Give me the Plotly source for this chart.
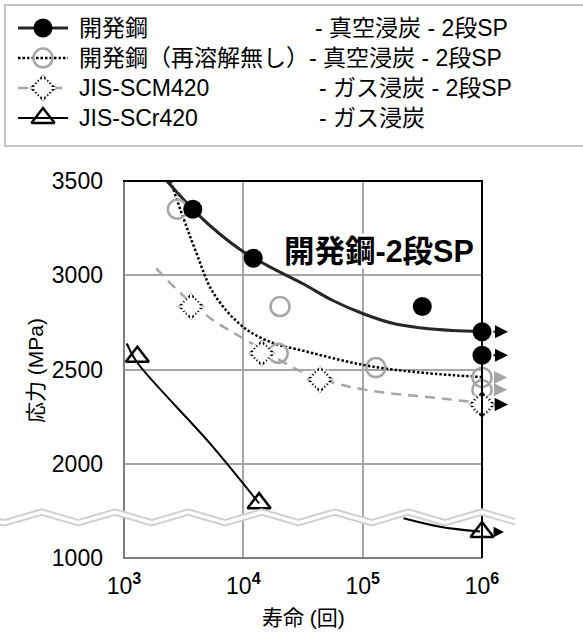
import math
import plotly.graph_objects as go

W, H = 583, 634
FONT = "Liberation Sans, Arial, Noto Sans CJK JP, sans-serif"

# ---------------- data ----------------
LIFE_TICKS = [1e3, 1e4, 1e5, 1e6]
LIFE_TICK_TEXT = ["10<sup><b>3</b></sup>", "10<sup><b>4</b></sup>",
                  "10<sup><b>5</b></sup>", "10<sup><b>6</b></sup>"]
STRESS_TICKS = [1500, 2000, 2500, 3000, 3500]          # axis positions
STRESS_TICK_TEXT = ["1000", "2000", "2500", "3000", "3500"]
BREAK_BELOW = 1500      # values under the axis break ...
BREAK_OFFSET = 500      # ... are drawn this much higher

# 開発鋼 - 真空浸炭 - 2段SP
dev_x = [3770, 12100, 316000, 1e6, 1e6]
dev_y = [3350, 3090, 2834, 2700, 2576]
dev_runout = [False, False, False, True, True]
dev_fit_x = [2290, 3980, 6310, 10000, 17800, 31600, 56200, 100000, 178000, 316000, 562000, 1000000]
dev_fit_y = [3500, 3335, 3220, 3125, 3035, 2955, 2866, 2797, 2745, 2720, 2707, 2701]

# 開発鋼（再溶解無し） - 真空浸炭 - 2段SP
nr_x = [2800, 20300, 19600, 129000, 1e6, 1e6, 1e6]
nr_y = [3350, 2834, 2586, 2510, 2458, 2392, 2314]
nr_runout = [False, False, False, False, True, True, True]
nr_fit_x = [2450, 3160, 3980, 5620, 10000, 17800, 31600, 56200, 100000, 178000, 316000, 562000, 1000000]
nr_fit_y = [3500, 3300, 3130, 2905, 2725, 2640, 2600, 2560, 2525, 2500, 2483, 2470, 2460]

# JIS-SCM420 - ガス浸炭 - 2段SP
scm_x = [3650, 14250, 44000, 1e6]
scm_y = [2834, 2586, 2447, 2314]
scm_runout = [False, False, False, True]
scm_fit_x = [1860, 3160, 5620, 10000, 17800, 31600, 56200, 100000, 178000, 316000, 562000, 1000000]
scm_fit_y = [3036, 2890, 2760, 2665, 2570, 2485, 2430, 2395, 2372, 2357, 2340, 2322]

# JIS-SCr420 - ガス浸炭
scr_x = [1294, 13550, 1e6]
scr_y = [2568, 1791, 1138]
scr_runout = [False, False, True]
scr_fit1_x = [1054, 1276, 5250, 13550]
scr_fit1_y = [2638, 2541, 2108, 1790]
scr_fit2_x = [220000, 444600, 964000]
scr_fit2_y = [1211, 1166, 1140]


def ax_y(vals):
    return [v + BREAK_OFFSET if v < BREAK_BELOW else v for v in vals]


# ---------------- styles ----------------
BLACK = "#000000"
DARK = "#262626"
GRAY = "#a6a6a6"

S_DEV = dict(symbol="circle", size=19, color=BLACK)
S_NR = dict(symbol="circle-open", size=19, color=GRAY, line=dict(width=2.5))
S_SCM = dict(symbol="diamond", size=18, color="white", line=dict(width=2.2, color=BLACK))
S_SCM_CUT1 = dict(symbol="asterisk-open", size=21, color="white", line=dict(width=2.2, color="white"))
S_SCM_CUT2 = dict(symbol="asterisk-open", size=21, color="white", angle=22.5,
                  line=dict(width=2.2, color="white"))
S_SCR = dict(symbol="triangle-up-open", size=20, color=BLACK, line=dict(width=2.5))

L_DEV = dict(color=DARK, width=3)
L_NR = dict(color=BLACK, width=2.5, dash="2.5px,2px")
L_SCM = dict(color=GRAY, width=2.5, dash="10px,7px")
L_SCR = dict(color=BLACK, width=2)

fig = go.Figure()

# fitted curves
fig.add_trace(go.Scatter(x=nr_fit_x, y=nr_fit_y, mode="lines", line=dict(**L_NR, shape="spline")))
fig.add_trace(go.Scatter(x=scm_fit_x, y=scm_fit_y, mode="lines", line=dict(**L_SCM, shape="spline")))
fig.add_trace(go.Scatter(x=scr_fit1_x, y=ax_y(scr_fit1_y), mode="lines", line=dict(**L_SCR, shape="spline")))
fig.add_trace(go.Scatter(x=scr_fit2_x, y=ax_y(scr_fit2_y), mode="lines", line=dict(**L_SCR, shape="spline")))
fig.add_trace(go.Scatter(x=dev_fit_x, y=dev_fit_y, mode="lines", line=dict(**L_DEV, shape="spline")))

# points
fig.add_trace(go.Scatter(x=nr_x, y=nr_y, mode="markers", marker=S_NR, cliponaxis=False))
for m in (S_SCM, S_SCM_CUT1, S_SCM_CUT2):
    fig.add_trace(go.Scatter(x=scm_x, y=scm_y, mode="markers", marker=m, cliponaxis=False))
fig.add_trace(go.Scatter(x=scr_x, y=ax_y(scr_y), mode="markers", marker=S_SCR, cliponaxis=False))
fig.add_trace(go.Scatter(x=dev_x, y=dev_y, mode="markers", marker=S_DEV, cliponaxis=False))

# run-out arrows
annotations = []


def runouts(xs, ys, flags, color, shift, length, width):
    for xv, yv, f in zip(xs, ax_y(ys), flags):
        if f:
            annotations.append(dict(
                x=math.log10(xv), y=yv, xref="x", yref="y", text="", showarrow=True,
                ax=-length, ay=0, axref="pixel", ayref="pixel", xshift=shift,
                arrowhead=2, arrowsize=1.3, arrowwidth=width, arrowcolor=color))


runouts(nr_x, nr_y, nr_runout, GRAY, 25, 14, 2)
runouts(scm_x, scm_y, scm_runout, BLACK, 26, 15, 2)
runouts(dev_x, dev_y, dev_runout, BLACK, 26, 16, 2)
runouts(scr_x, scr_y, scr_runout, BLACK, 22, 12, 1.6)

# ---------------- layout geometry (pixels) ----------------
PL, PR, PT, PB = 124, 482, 181, 558


def px(x):
    return x / W


def py(y):
    return 1 - y / H


# legend drawn on a pixel overlay axis
LEG_ROWS = [28, 58, 88, 118]
LEG_LINE = [18, 68]
LEG_MARK = 43
legend_items = [
    (L_DEV, [S_DEV]),
    (L_NR, [S_NR]),
    (L_SCM, [S_SCM, S_SCM_CUT1, S_SCM_CUT2]),
    (L_SCR, [S_SCR]),
]
for row, (ls, marks) in zip(LEG_ROWS, legend_items):
    fig.add_trace(go.Scatter(x=LEG_LINE, y=[row, row], mode="lines", line=ls,
                             xaxis="x2", yaxis="y2"))
    for m in marks:
        fig.add_trace(go.Scatter(x=[LEG_MARK], y=[row], mode="markers", marker=m,
                                 xaxis="x2", yaxis="y2", cliponaxis=False))

LEG_FS = 23
legend_texts = [
    (77, LEG_ROWS[0], "開発鋼"),
    (313, LEG_ROWS[0], "- 真空浸炭 - 2段SP"),
    (77, LEG_ROWS[1], "開発鋼（再溶解無し）- 真空浸炭 - 2段SP"),
    (77, LEG_ROWS[2], "JIS-SCM420"),
    (317, LEG_ROWS[2], "- ガス浸炭 - 2段SP"),
    (77, LEG_ROWS[3], "JIS-SCr420"),
    (317, LEG_ROWS[3], "- ガス浸炭"),
]
for x, y, t in legend_texts:
    annotations.append(dict(x=px(x), y=py(y), xref="paper", yref="paper", text=t,
                            showarrow=False, xanchor="left", yanchor="middle",
                            font=dict(family=FONT, size=LEG_FS, color=BLACK)))

# in-plot title and axis titles
annotations.append(dict(x=px(475), y=py(251), xref="paper", yref="paper",
                        text="<b>開発鋼-2段SP</b>", showarrow=False,
                        xanchor="right", yanchor="middle", bgcolor="white", borderpad=0,
                        font=dict(family=FONT, size=30.5, color=BLACK)))
annotations.append(dict(x=px(35), y=py(371), xref="paper", yref="paper",
                        text="応力 (MPa)", showarrow=False, textangle=-90,
                        xanchor="center", yanchor="middle",
                        font=dict(family=FONT, size=21, color=BLACK)))
annotations.append(dict(x=px(303), y=py(617), xref="paper", yref="paper",
                        text="寿命 (回)", showarrow=False,
                        xanchor="center", yanchor="middle",
                        font=dict(family=FONT, size=21, color=BLACK)))

shapes = []
# legend frame
shapes.append(dict(type="rect", xref="paper", yref="paper", x0=px(5), x1=px(W + 20),
                   y0=py(5), y1=py(146), line=dict(color="#c8c8c8", width=2), layer="above"))
# plot frame
shapes.append(dict(type="line", xref="paper", yref="paper", x0=px(PL), x1=px(PL),
                   y0=py(PT), y1=py(PB), line=dict(color="#7f7f7f", width=2), layer="above"))
shapes.append(dict(type="line", xref="paper", yref="paper", x0=px(PL - 1), x1=px(PR),
                   y0=py(PB), y1=py(PB), line=dict(color="#7f7f7f", width=2), layer="above"))
shapes.append(dict(type="line", xref="paper", yref="paper", x0=px(PL - 1), x1=px(PR + 1),
                   y0=py(PT), y1=py(PT), line=dict(color=BLACK, width=2), layer="above"))
shapes.append(dict(type="line", xref="paper", yref="paper", x0=px(PR), x1=px(PR),
                   y0=py(PT), y1=py(PB), line=dict(color=BLACK, width=2), layer="above"))

# axis-break zigzag
ZX = [0, 5, 41.7, 78.3, 115, 151.7, 188.3, 225, 261.7, 298.3, 335, 371.7, 408.3, 445, 481.7, 515]
ZY = [519.5, 520, 509.3, 520, 509.3, 520, 509.3, 520, 509.3, 520, 509.3, 520, 509.3, 520, 509.3, 519]
GAP = 5.5
upper = " L ".join(f"{px(x):.5f},{py(y):.5f}" for x, y in zip(ZX, ZY))
lower = " L ".join(f"{px(x):.5f},{py(y + GAP):.5f}" for x, y in zip(ZX, ZY))
lower_rev = " L ".join(f"{px(x):.5f},{py(y + GAP):.5f}" for x, y in zip(ZX[::-1], ZY[::-1]))
shapes.append(dict(type="path", xref="paper", yref="paper", path=f"M {upper} L {lower_rev} Z",
                   fillcolor="white", line=dict(width=0), layer="above"))
shapes.append(dict(type="path", xref="paper", yref="paper", path=f"M {upper}",
                   line=dict(color="#d0d0d0", width=2), layer="above"))
shapes.append(dict(type="path", xref="paper", yref="paper", path=f"M {lower}",
                   line=dict(color="#d0d0d0", width=2), layer="above"))

fig.update_layout(
    width=W, height=H, margin=dict(l=0, r=0, t=0, b=0, autoexpand=False),
    paper_bgcolor="white", plot_bgcolor="rgba(0,0,0,0)",
    showlegend=False,
    font=dict(family=FONT, color=BLACK),
    xaxis=dict(type="log", range=[3, 6], domain=[px(PL), px(PR)], anchor="y",
               tickvals=LIFE_TICKS, ticktext=LIFE_TICK_TEXT, ticks="", automargin=False,
               ticklabelstandoff=12, tickfont=dict(family=FONT, size=23, color=BLACK),
               showgrid=True, gridcolor=GRAY, gridwidth=2, showline=False, zeroline=False),
    yaxis=dict(range=[1500, 3500], domain=[py(PB), py(PT)], anchor="x",
               tickvals=STRESS_TICKS, ticktext=STRESS_TICK_TEXT, ticks="", automargin=False,
               ticklabelstandoff=20, tickfont=dict(family=FONT, size=23, color=BLACK),
               showgrid=True, gridcolor=GRAY, gridwidth=2, showline=False, zeroline=False),
    xaxis2=dict(range=[0, W], domain=[0, 1], anchor="y2", visible=False, fixedrange=True,
                automargin=False),
    yaxis2=dict(range=[H, 0], domain=[0, 1], anchor="x2", visible=False, fixedrange=True,
                automargin=False),
    annotations=annotations,
    shapes=shapes,
)

fig.write_html("out.html", config={"displayModeBar": False},
               post_script="document.body.style.margin='0';document.body.style.padding='0';")
